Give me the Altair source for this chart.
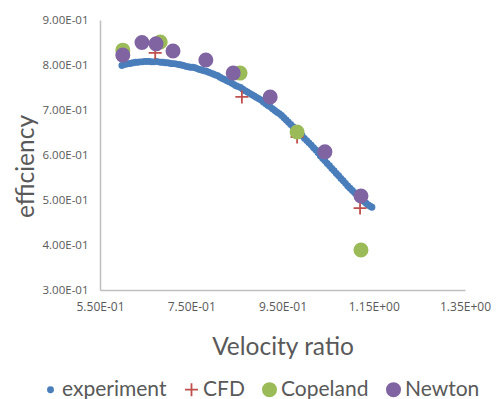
import altair as alt
import pandas as pd

# experiment (dense measured points)
exp_x = [0.598, 0.603, 0.608, 0.613, 0.618, 0.623, 0.628, 0.633, 0.638, 0.643, 0.648, 0.653,
         0.658, 0.663, 0.668, 0.673, 0.678, 0.683, 0.688, 0.693, 0.698, 0.703, 0.708, 0.713,
         0.718, 0.723, 0.728, 0.733, 0.738, 0.743, 0.748, 0.753, 0.758, 0.763, 0.768, 0.773,
         0.778, 0.783, 0.788, 0.793, 0.798, 0.803, 0.808, 0.813, 0.818, 0.823, 0.828, 0.833,
         0.838, 0.843, 0.848, 0.853, 0.858, 0.863, 0.868, 0.873, 0.878, 0.883, 0.888, 0.893,
         0.898, 0.903, 0.908, 0.913, 0.918, 0.923, 0.928, 0.933, 0.938, 0.943, 0.948, 0.953,
         0.958, 0.963, 0.968, 0.973, 0.978, 0.983, 0.988, 0.993, 0.998, 1.003, 1.008, 1.013,
         1.018, 1.023, 1.028, 1.033, 1.038, 1.043, 1.048, 1.053, 1.058, 1.063, 1.068, 1.073,
         1.078, 1.083, 1.088, 1.093, 1.098, 1.103, 1.108, 1.113, 1.118, 1.123, 1.128, 1.133,
         1.138, 1.142, 1.146]
exp_y = [0.799, 0.801, 0.802, 0.803, 0.804, 0.805, 0.806, 0.806, 0.807, 0.807, 0.808, 0.808,
         0.808, 0.807, 0.807, 0.808, 0.807, 0.806, 0.806, 0.805, 0.805, 0.804, 0.803, 0.803,
         0.802, 0.801, 0.800, 0.799, 0.797, 0.796, 0.795, 0.795, 0.794, 0.792, 0.790, 0.789,
         0.787, 0.786, 0.784, 0.782, 0.780, 0.778, 0.776, 0.773, 0.770, 0.768, 0.765, 0.763,
         0.760, 0.757, 0.754, 0.752, 0.750, 0.746, 0.743, 0.740, 0.737, 0.734, 0.731, 0.728,
         0.725, 0.722, 0.718, 0.714, 0.710, 0.707, 0.703, 0.699, 0.695, 0.692, 0.688, 0.683,
         0.678, 0.673, 0.668, 0.663, 0.657, 0.653, 0.648, 0.643, 0.637, 0.632, 0.627, 0.622,
         0.616, 0.611, 0.605, 0.598, 0.592, 0.587, 0.581, 0.576, 0.570, 0.565, 0.559, 0.554,
         0.548, 0.543, 0.537, 0.531, 0.526, 0.521, 0.516, 0.511, 0.506, 0.502, 0.497, 0.493,
         0.489, 0.486, 0.484]

cfd_x = [0.671, 0.861, 0.982, 1.120]
cfd_y = [0.827, 0.729, 0.640, 0.482]

cop_x = [0.600, 0.682, 0.857, 0.982, 1.122]
cop_y = [0.833, 0.851, 0.782, 0.651, 0.389]

new_x = [0.600, 0.642, 0.673, 0.710, 0.782, 0.842, 0.923, 1.043, 1.122]
new_y = [0.822, 0.850, 0.847, 0.831, 0.811, 0.782, 0.729, 0.607, 0.509]

series = ["experiment", "CFD", "Copeland", "Newton"]
colors = ["#4a7ebb", "#c0504d", "#9bbb59", "#8064a2"]
shapes = ["circle", "M-1,0H1M0,-1V1", "circle", "circle"]
sizes = [26, 170, 174, 174]

x_ticks = [0.55, 0.75, 0.95, 1.15, 1.35]
y_ticks = [0.3, 0.4, 0.5, 0.6, 0.7, 0.8, 0.9]

rows = []
for name, xs, ys in [("experiment", exp_x, exp_y), ("CFD", cfd_x, cfd_y),
                     ("Copeland", cop_x, cop_y), ("Newton", new_x, new_y)]:
    for a, b in zip(xs, ys):
        rows.append({"x": a, "y": b, "series": name})
df = pd.DataFrame(rows)

label_expr = "replace(replace(format(datum.value, '.2e'), 'e-', 'E-0'), 'e+', 'E+0')"

leg = alt.Legend(title=None, orient="none", direction="horizontal",
                 legendX=-60, legendY=359, labelFont="Lato", labelFontSize=21,
                 labelColor="#595959", labelOffset=1, columnPadding=14,
                 symbolStrokeWidth=1.8)

chart = alt.Chart(df).mark_point(filled=True, strokeWidth=1.8, opacity=1).encode(
    x=alt.X("x:Q", scale=alt.Scale(domain=[0.55, 1.35], nice=False, zero=False),
            axis=alt.Axis(values=x_ticks, labelExpr=label_expr, grid=False, ticks=False,
                          labelFlush=False,
                          domainColor="#bfbfbf", domainWidth=1.5,
                          labelFont="Open Sans", labelFontSize=12, labelColor="#595959",
                          labelPadding=11, title="Velocity ratio", titleFont="Lato",
                          titleFontSize=24.5, titleFontWeight="normal", titleColor="#595959",
                          titleY=64, titleBaseline="alphabetic")),
    y=alt.Y("y:Q", scale=alt.Scale(domain=[0.3, 0.9], nice=False, zero=False),
            axis=alt.Axis(values=y_ticks, labelExpr=label_expr, grid=False, ticks=False,
                          labelFlush=False,
                          domainColor="#bfbfbf", domainWidth=1.5,
                          labelFont="Open Sans", labelFontSize=11.5, labelColor="#595959",
                          labelPadding=12, title="efficiency", titleFont="Lato",
                          titleFontSize=24.5, titleFontWeight="normal", titleColor="#595959",
                          titleX=-67, titleY=146, titleAngle=-90, titleAlign="center",
                          titleBaseline="alphabetic")),
    color=alt.Color("series:N", scale=alt.Scale(domain=series, range=colors), legend=leg),
    stroke=alt.Stroke("series:N", scale=alt.Scale(domain=series, range=colors), legend=leg),
    shape=alt.Shape("series:N", scale=alt.Scale(domain=series, range=shapes), legend=leg),
    size=alt.Size("series:N", scale=alt.Scale(type="ordinal", domain=series, range=sizes),
                  legend=leg),
).properties(
    width=365, height=270,
    autosize=alt.AutoSizeParams(type="none"),
    padding={"left": 100, "top": 20, "right": 32, "bottom": 109},
).configure_view(stroke=None)

chart.save("out.html", embed_options={"renderer": "svg", "actions": False})
